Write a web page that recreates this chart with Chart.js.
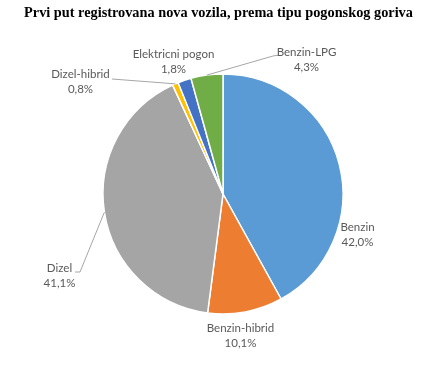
<!DOCTYPE html>
<html>
<head>
<meta charset="utf-8">
<script src="https://cdn.jsdelivr.net/npm/chart.js@4.4.1/dist/chart.umd.min.js"></script>
<style>
html,body{margin:0;padding:0;background:#fff;}
#wrap{width:434px;height:368px;position:relative;}
</style>
</head>
<body>
<div id="wrap"><canvas id="c" width="434" height="368"></canvas></div>
<script>
const title = 'Prvi put registrovana nova vozila, prema tipu pogonskog goriva';
const categories = ['Benzin', 'Benzin-hibrid', 'Dizel', 'Dizel-hibrid', 'Elektricni pogon', 'Benzin-LPG'];
const values = [42.0, 10.1, 41.1, 0.8, 1.8, 4.3];
const colors = ['#5B9BD5', '#ED7D31', '#A5A5A5', '#FFC000', '#4472C4', '#70AD47'];

// label placement (offset of label block centre from pie centre) and leader-line start
const labelOffsets = [[134.5, 41], [17.5, 142], [-163.5, 82], [-142.5, -112.5], [-49.5, -132], [83.5, -134]];
const leaderStarts = [null, null, [[75, 272], [80, 272]], [[112, 79]], null, [[279, 55], [273, 56]]];

const fmt = v => v.toFixed(1).replace('.', ',') + '%';

const labelPlugin = {
  id: 'labels',
  afterDraw(chart) {
    const ctx = chart.ctx;
    const meta = chart.getDatasetMeta(0);
    ctx.save();
    // title
    ctx.fillStyle = '#000';
    ctx.font = 'bold 14.3px "Liberation Serif"';
    ctx.textAlign = 'center';
    ctx.textBaseline = 'middle';
    ctx.fillText(title, 218.5, 13);
    // leader lines
    ctx.strokeStyle = '#A6A6A6';
    ctx.lineWidth = 1;
    meta.data.forEach((arc, i) => {
      const starts = leaderStarts[i];
      if (!starts) return;
      const p = arc.getProps(['x', 'y', 'startAngle', 'endAngle', 'outerRadius'], true);
      const mid = (p.startAngle + p.endAngle) / 2;
      const ex = p.x + Math.cos(mid) * p.outerRadius;
      const ey = p.y + Math.sin(mid) * p.outerRadius;
      ctx.beginPath();
      ctx.moveTo(starts[0][0], starts[0][1]);
      for (let k = 1; k < starts.length; k++) ctx.lineTo(starts[k][0], starts[k][1]);
      ctx.lineTo(ex, ey);
      ctx.stroke();
    });
    // labels
    ctx.fillStyle = '#595959';
    ctx.font = '11.5px Lato';
    meta.data.forEach((arc, i) => {
      const cx = arc.x + labelOffsets[i][0];
      const cy = arc.y + labelOffsets[i][1];
      ctx.fillText(categories[i], cx, cy - 7.5);
      ctx.fillText(fmt(values[i]), cx, cy + 7.5);
    });
    ctx.restore();
  }
};

new Chart(document.getElementById('c'), {
  type: 'pie',
  data: {
    labels: categories,
    datasets: [{
      data: values,
      backgroundColor: colors,
      borderColor: '#FFFFFF',
      borderWidth: 1.5,
      hoverOffset: 0
    }]
  },
  options: {
    responsive: false,
    animation: false,
    radius: 120,
    layout: { padding: { left: 103, right: 91, top: 74, bottom: 54 } },
    plugins: {
      legend: { display: false },
      tooltip: { enabled: false },
      title: { display: false }
    }
  },
  plugins: [labelPlugin]
});
</script>
</body>
</html>
